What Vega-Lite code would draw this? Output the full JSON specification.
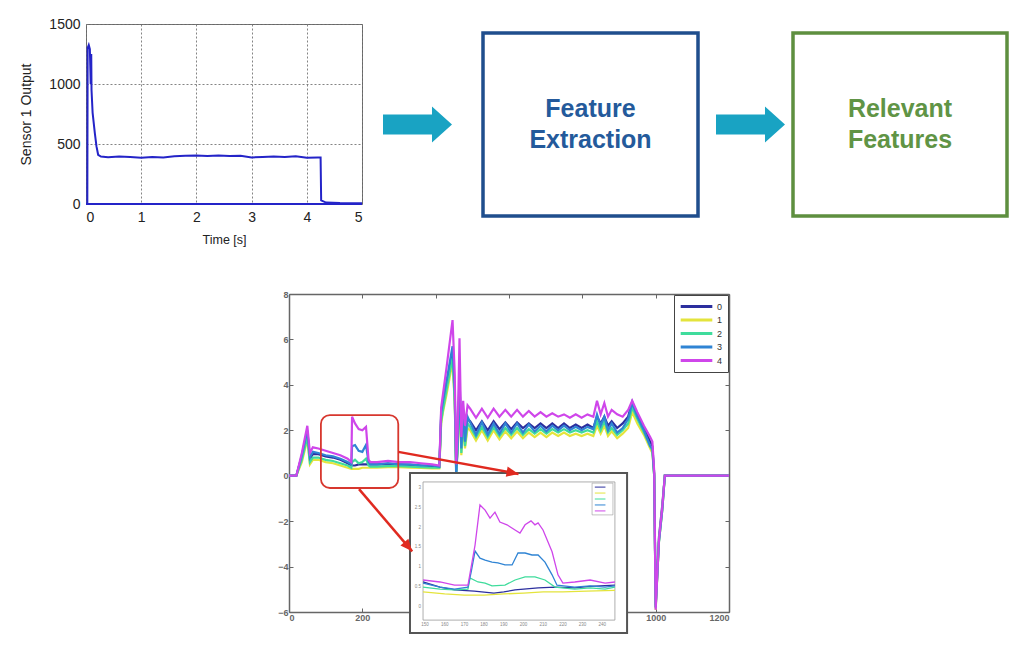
{
"$schema": "https://vega.github.io/schema/vega-lite/v6.json",
"background": "white",
"padding": {"left": 19, "top": 16, "right": 5, "bottom": 5},
"config": {"view": {"stroke": null}, "font": "Liberation Sans", "axis": {"labelFont": "Liberation Sans", "titleFont": "Liberation Sans"}},
"datasets": {
"sensor": [{"t":0,"v":0},{"t":0.024,"v":0},{"t":0.03,"v":1300},{"t":0.05,"v":1325},{"t":0.07,"v":1290},{"t":0.085,"v":1000},{"t":0.095,"v":1250},{"t":0.1,"v":950},{"t":0.12,"v":760},{"t":0.16,"v":590},{"t":0.19,"v":480},{"t":0.22,"v":410},{"t":0.27,"v":395},{"t":0.4,"v":390},{"t":0.6,"v":395},{"t":0.8,"v":392},{"t":1.0,"v":385},{"t":1.2,"v":392},{"t":1.4,"v":388},{"t":1.6,"v":398},{"t":1.8,"v":402},{"t":2.0,"v":405},{"t":2.2,"v":400},{"t":2.4,"v":405},{"t":2.6,"v":400},{"t":2.8,"v":402},{"t":3.0,"v":388},{"t":3.2,"v":392},{"t":3.4,"v":396},{"t":3.6,"v":392},{"t":3.8,"v":398},{"t":4.0,"v":385},{"t":4.2,"v":388},{"t":4.25,"v":388},{"t":4.26,"v":30},{"t":4.35,"v":12},{"t":4.6,"v":8},{"t":5.0,"v":6}],
"main": [
{"s":"0","x":0,"y":0},{"s":"0","x":20,"y":0},{"s":"0","x":35,"y":0.85},{"s":"0","x":50,"y":1.9},{"s":"0","x":57,"y":0.75},{"s":"0","x":65,"y":0.95},{"s":"0","x":80,"y":0.95},{"s":"0","x":100,"y":0.85},{"s":"0","x":120,"y":0.8},{"s":"0","x":140,"y":0.7},
{"s":"0","x":160,"y":0.55},{"s":"0","x":170,"y":0.45},{"s":"0","x":172,"y":0.45},{"s":"0","x":180,"y":0.45},{"s":"0","x":190,"y":0.5},{"s":"0","x":200,"y":0.5},{"s":"0","x":210,"y":0.5},{"s":"0","x":217,"y":0.5},{"s":"0","x":222,"y":0.5},{"s":"0","x":240,"y":0.5},
{"s":"0","x":270,"y":0.5},{"s":"0","x":300,"y":0.5},{"s":"0","x":330,"y":0.48},{"s":"0","x":360,"y":0.45},{"s":"0","x":390,"y":0.42},{"s":"0","x":410,"y":0.4},{"s":"0","x":415,"y":2.6},{"s":"0","x":420,"y":3.1},{"s":"0","x":430,"y":4.0},{"s":"0","x":446,"y":5.4},
{"s":"0","x":452,"y":3.5},{"s":"0","x":456,"y":0.2},{"s":"0","x":460,"y":1.4},{"s":"0","x":465,"y":4.2},{"s":"0","x":470,"y":1.3},{"s":"0","x":475,"y":2.6},{"s":"0","x":480,"y":1.6},{"s":"0","x":487,"y":2.5},{"s":"0","x":494,"y":2.4},{"s":"0","x":510,"y":2.0},
{"s":"0","x":526,"y":2.4},{"s":"0","x":542,"y":2.0},{"s":"0","x":558,"y":2.4},{"s":"0","x":574,"y":2.05},{"s":"0","x":590,"y":2.35},{"s":"0","x":606,"y":2.05},{"s":"0","x":622,"y":2.35},{"s":"0","x":638,"y":2.1},{"s":"0","x":654,"y":2.3},{"s":"0","x":670,"y":2.1},
{"s":"0","x":686,"y":2.3},{"s":"0","x":702,"y":2.1},{"s":"0","x":718,"y":2.3},{"s":"0","x":734,"y":2.1},{"s":"0","x":750,"y":2.3},{"s":"0","x":766,"y":2.1},{"s":"0","x":782,"y":2.25},{"s":"0","x":798,"y":2.1},{"s":"0","x":814,"y":2.25},{"s":"0","x":830,"y":2.1},
{"s":"0","x":840,"y":2.6},{"s":"0","x":850,"y":2.3},{"s":"0","x":860,"y":2.6},{"s":"0","x":870,"y":2.2},{"s":"0","x":880,"y":2.4},{"s":"0","x":895,"y":2.1},{"s":"0","x":910,"y":2.3},{"s":"0","x":925,"y":2.6},{"s":"0","x":936,"y":3.25},{"s":"0","x":950,"y":2.7},
{"s":"0","x":968,"y":2.1},{"s":"0","x":985,"y":1.5},{"s":"0","x":991,"y":1.3},{"s":"0","x":996,"y":0.1},{"s":"0","x":1000,"y":-5.7},{"s":"0","x":1009,"y":-2.7},{"s":"0","x":1018,"y":-1.3},{"s":"0","x":1025,"y":0},{"s":"0","x":1200,"y":0},
{"s":"1","x":0,"y":0},{"s":"1","x":20,"y":0},{"s":"1","x":35,"y":0.6},{"s":"1","x":50,"y":1.6},{"s":"1","x":57,"y":0.5},{"s":"1","x":65,"y":0.7},{"s":"1","x":80,"y":0.7},{"s":"1","x":100,"y":0.6},{"s":"1","x":120,"y":0.55},{"s":"1","x":140,"y":0.45},
{"s":"1","x":160,"y":0.35},{"s":"1","x":170,"y":0.3},{"s":"1","x":172,"y":0.3},{"s":"1","x":180,"y":0.3},{"s":"1","x":190,"y":0.3},{"s":"1","x":200,"y":0.35},{"s":"1","x":210,"y":0.35},{"s":"1","x":217,"y":0.35},{"s":"1","x":222,"y":0.35},{"s":"1","x":240,"y":0.35},
{"s":"1","x":270,"y":0.38},{"s":"1","x":300,"y":0.38},{"s":"1","x":330,"y":0.36},{"s":"1","x":360,"y":0.34},{"s":"1","x":390,"y":0.32},{"s":"1","x":410,"y":0.32},{"s":"1","x":415,"y":2.3},{"s":"1","x":420,"y":2.8},{"s":"1","x":430,"y":3.6},{"s":"1","x":446,"y":5.0},
{"s":"1","x":452,"y":3.2},{"s":"1","x":456,"y":0.2},{"s":"1","x":460,"y":1.1},{"s":"1","x":465,"y":3.8},{"s":"1","x":470,"y":0.9},{"s":"1","x":475,"y":2.2},{"s":"1","x":480,"y":1.2},{"s":"1","x":487,"y":2.1},{"s":"1","x":494,"y":2.0},{"s":"1","x":510,"y":1.55},
{"s":"1","x":526,"y":2.0},{"s":"1","x":542,"y":1.55},{"s":"1","x":558,"y":2.0},{"s":"1","x":574,"y":1.6},{"s":"1","x":590,"y":1.95},{"s":"1","x":606,"y":1.65},{"s":"1","x":622,"y":1.95},{"s":"1","x":638,"y":1.65},{"s":"1","x":654,"y":1.9},{"s":"1","x":670,"y":1.7},
{"s":"1","x":686,"y":1.9},{"s":"1","x":702,"y":1.7},{"s":"1","x":718,"y":1.9},{"s":"1","x":734,"y":1.75},{"s":"1","x":750,"y":1.9},{"s":"1","x":766,"y":1.75},{"s":"1","x":782,"y":1.85},{"s":"1","x":798,"y":1.75},{"s":"1","x":814,"y":1.85},{"s":"1","x":830,"y":1.75},
{"s":"1","x":840,"y":2.2},{"s":"1","x":850,"y":1.85},{"s":"1","x":860,"y":2.2},{"s":"1","x":870,"y":1.75},{"s":"1","x":880,"y":1.95},{"s":"1","x":895,"y":1.65},{"s":"1","x":910,"y":1.85},{"s":"1","x":925,"y":2.1},{"s":"1","x":936,"y":2.8},{"s":"1","x":950,"y":2.3},
{"s":"1","x":968,"y":1.8},{"s":"1","x":985,"y":1.2},{"s":"1","x":991,"y":1.0},{"s":"1","x":996,"y":0.0},{"s":"1","x":1000,"y":-5.9},{"s":"1","x":1009,"y":-2.9},{"s":"1","x":1018,"y":-1.5},{"s":"1","x":1025,"y":0},{"s":"1","x":1200,"y":0},
{"s":"2","x":0,"y":0},{"s":"2","x":20,"y":0},{"s":"2","x":35,"y":0.7},{"s":"2","x":50,"y":1.7},{"s":"2","x":57,"y":0.6},{"s":"2","x":65,"y":0.8},{"s":"2","x":80,"y":0.8},{"s":"2","x":100,"y":0.7},{"s":"2","x":120,"y":0.65},{"s":"2","x":140,"y":0.55},
{"s":"2","x":160,"y":0.45},{"s":"2","x":170,"y":0.35},{"s":"2","x":172,"y":0.6},{"s":"2","x":180,"y":0.7},{"s":"2","x":190,"y":0.55},{"s":"2","x":200,"y":0.6},{"s":"2","x":210,"y":0.75},{"s":"2","x":217,"y":0.45},{"s":"2","x":222,"y":0.4},{"s":"2","x":240,"y":0.4},
{"s":"2","x":270,"y":0.42},{"s":"2","x":300,"y":0.42},{"s":"2","x":330,"y":0.4},{"s":"2","x":360,"y":0.38},{"s":"2","x":390,"y":0.35},{"s":"2","x":410,"y":0.35},{"s":"2","x":415,"y":2.4},{"s":"2","x":420,"y":2.9},{"s":"2","x":430,"y":3.8},{"s":"2","x":446,"y":5.2},
{"s":"2","x":452,"y":3.3},{"s":"2","x":456,"y":0.1},{"s":"2","x":460,"y":1.2},{"s":"2","x":465,"y":4.0},{"s":"2","x":470,"y":1.0},{"s":"2","x":475,"y":2.4},{"s":"2","x":480,"y":1.3},{"s":"2","x":487,"y":2.3},{"s":"2","x":494,"y":2.15},{"s":"2","x":510,"y":1.7},
{"s":"2","x":526,"y":2.15},{"s":"2","x":542,"y":1.7},{"s":"2","x":558,"y":2.15},{"s":"2","x":574,"y":1.75},{"s":"2","x":590,"y":2.1},{"s":"2","x":606,"y":1.8},{"s":"2","x":622,"y":2.1},{"s":"2","x":638,"y":1.8},{"s":"2","x":654,"y":2.05},{"s":"2","x":670,"y":1.85},
{"s":"2","x":686,"y":2.05},{"s":"2","x":702,"y":1.85},{"s":"2","x":718,"y":2.05},{"s":"2","x":734,"y":1.9},{"s":"2","x":750,"y":2.05},{"s":"2","x":766,"y":1.9},{"s":"2","x":782,"y":2.0},{"s":"2","x":798,"y":1.9},{"s":"2","x":814,"y":2.0},{"s":"2","x":830,"y":1.9},
{"s":"2","x":840,"y":2.4},{"s":"2","x":850,"y":2.0},{"s":"2","x":860,"y":2.4},{"s":"2","x":870,"y":1.9},{"s":"2","x":880,"y":2.1},{"s":"2","x":895,"y":1.8},{"s":"2","x":910,"y":2.0},{"s":"2","x":925,"y":2.3},{"s":"2","x":936,"y":3.0},{"s":"2","x":950,"y":2.5},
{"s":"2","x":968,"y":1.9},{"s":"2","x":985,"y":1.3},{"s":"2","x":991,"y":1.1},{"s":"2","x":996,"y":0.0},{"s":"2","x":1000,"y":-5.8},{"s":"2","x":1009,"y":-2.9},{"s":"2","x":1018,"y":-1.5},{"s":"2","x":1025,"y":0},{"s":"2","x":1200,"y":0},
{"s":"3","x":0,"y":0},{"s":"3","x":20,"y":0},{"s":"3","x":35,"y":0.9},{"s":"3","x":50,"y":2.0},{"s":"3","x":57,"y":0.8},{"s":"3","x":65,"y":1.05},{"s":"3","x":80,"y":1.0},{"s":"3","x":100,"y":0.9},{"s":"3","x":120,"y":0.85},{"s":"3","x":140,"y":0.75},
{"s":"3","x":160,"y":0.6},{"s":"3","x":170,"y":0.5},{"s":"3","x":172,"y":1.3},{"s":"3","x":180,"y":1.35},{"s":"3","x":190,"y":1.1},{"s":"3","x":200,"y":1.05},{"s":"3","x":210,"y":1.35},{"s":"3","x":217,"y":0.6},{"s":"3","x":222,"y":0.5},{"s":"3","x":240,"y":0.5},
{"s":"3","x":270,"y":0.55},{"s":"3","x":300,"y":0.5},{"s":"3","x":330,"y":0.5},{"s":"3","x":360,"y":0.45},{"s":"3","x":390,"y":0.45},{"s":"3","x":410,"y":0.4},{"s":"3","x":415,"y":2.8},{"s":"3","x":420,"y":3.3},{"s":"3","x":430,"y":4.2},{"s":"3","x":446,"y":5.7},
{"s":"3","x":452,"y":3.8},{"s":"3","x":456,"y":-0.1},{"s":"3","x":460,"y":1.5},{"s":"3","x":465,"y":4.5},{"s":"3","x":470,"y":1.2},{"s":"3","x":475,"y":2.8},{"s":"3","x":480,"y":1.5},{"s":"3","x":487,"y":2.6},{"s":"3","x":494,"y":2.35},{"s":"3","x":510,"y":1.8},
{"s":"3","x":526,"y":2.35},{"s":"3","x":542,"y":1.8},{"s":"3","x":558,"y":2.3},{"s":"3","x":574,"y":1.85},{"s":"3","x":590,"y":2.3},{"s":"3","x":606,"y":1.9},{"s":"3","x":622,"y":2.3},{"s":"3","x":638,"y":1.9},{"s":"3","x":654,"y":2.25},{"s":"3","x":670,"y":1.95},
{"s":"3","x":686,"y":2.2},{"s":"3","x":702,"y":1.95},{"s":"3","x":718,"y":2.2},{"s":"3","x":734,"y":2.0},{"s":"3","x":750,"y":2.2},{"s":"3","x":766,"y":2.0},{"s":"3","x":782,"y":2.15},{"s":"3","x":798,"y":2.0},{"s":"3","x":814,"y":2.15},{"s":"3","x":830,"y":2.05},
{"s":"3","x":840,"y":2.7},{"s":"3","x":850,"y":2.2},{"s":"3","x":860,"y":2.6},{"s":"3","x":870,"y":2.0},{"s":"3","x":880,"y":2.3},{"s":"3","x":895,"y":1.9},{"s":"3","x":910,"y":2.1},{"s":"3","x":925,"y":2.5},{"s":"3","x":936,"y":3.2},{"s":"3","x":950,"y":2.6},
{"s":"3","x":968,"y":2.0},{"s":"3","x":985,"y":1.3},{"s":"3","x":991,"y":1.2},{"s":"3","x":996,"y":0.0},{"s":"3","x":1000,"y":-5.8},{"s":"3","x":1009,"y":-2.9},{"s":"3","x":1018,"y":-1.5},{"s":"3","x":1025,"y":0},{"s":"3","x":1200,"y":0},
{"s":"4","x":0,"y":0},{"s":"4","x":20,"y":0},{"s":"4","x":35,"y":1.0},{"s":"4","x":50,"y":2.2},{"s":"4","x":57,"y":1.0},{"s":"4","x":65,"y":1.25},{"s":"4","x":80,"y":1.2},{"s":"4","x":100,"y":1.1},{"s":"4","x":120,"y":1.0},{"s":"4","x":140,"y":0.9},
{"s":"4","x":160,"y":0.75},{"s":"4","x":170,"y":0.6},{"s":"4","x":172,"y":2.6},{"s":"4","x":180,"y":2.3},{"s":"4","x":190,"y":2.05},{"s":"4","x":200,"y":2.0},{"s":"4","x":210,"y":2.15},{"s":"4","x":217,"y":0.7},{"s":"4","x":222,"y":0.6},{"s":"4","x":240,"y":0.6},
{"s":"4","x":270,"y":0.65},{"s":"4","x":300,"y":0.6},{"s":"4","x":330,"y":0.6},{"s":"4","x":360,"y":0.55},{"s":"4","x":390,"y":0.5},{"s":"4","x":410,"y":0.45},{"s":"4","x":415,"y":3.0},{"s":"4","x":420,"y":3.6},{"s":"4","x":430,"y":4.8},{"s":"4","x":446,"y":6.85},
{"s":"4","x":452,"y":4.5},{"s":"4","x":456,"y":0.5},{"s":"4","x":460,"y":2.0},{"s":"4","x":465,"y":6.05},{"s":"4","x":470,"y":1.7},{"s":"4","x":475,"y":3.3},{"s":"4","x":480,"y":2.2},{"s":"4","x":487,"y":3.1},{"s":"4","x":494,"y":2.95},{"s":"4","x":510,"y":2.55},
{"s":"4","x":526,"y":2.95},{"s":"4","x":542,"y":2.55},{"s":"4","x":558,"y":2.95},{"s":"4","x":574,"y":2.6},{"s":"4","x":590,"y":2.9},{"s":"4","x":606,"y":2.6},{"s":"4","x":622,"y":2.9},{"s":"4","x":638,"y":2.6},{"s":"4","x":654,"y":2.85},{"s":"4","x":670,"y":2.6},
{"s":"4","x":686,"y":2.8},{"s":"4","x":702,"y":2.6},{"s":"4","x":718,"y":2.75},{"s":"4","x":734,"y":2.6},{"s":"4","x":750,"y":2.7},{"s":"4","x":766,"y":2.55},{"s":"4","x":782,"y":2.7},{"s":"4","x":798,"y":2.55},{"s":"4","x":814,"y":2.7},{"s":"4","x":830,"y":2.6},
{"s":"4","x":840,"y":3.3},{"s":"4","x":850,"y":2.7},{"s":"4","x":860,"y":3.2},{"s":"4","x":870,"y":2.6},{"s":"4","x":880,"y":2.9},{"s":"4","x":895,"y":2.7},{"s":"4","x":910,"y":2.6},{"s":"4","x":925,"y":2.9},{"s":"4","x":936,"y":3.3},{"s":"4","x":950,"y":2.8},
{"s":"4","x":968,"y":2.2},{"s":"4","x":985,"y":1.7},{"s":"4","x":991,"y":1.5},{"s":"4","x":996,"y":0.2},{"s":"4","x":1000,"y":-5.9},{"s":"4","x":1009,"y":-2.8},{"s":"4","x":1018,"y":-1.4},{"s":"4","x":1025,"y":0},{"s":"4","x":1200,"y":0}
],
"inset": [
{"s":"0","x":149,"y":0.63},{"s":"0","x":157.6,"y":0.5},{"s":"0","x":165,"y":0.43},{"s":"0","x":175,"y":0.4},{"s":"0","x":185,"y":0.35},{"s":"0","x":190,"y":0.38},{"s":"0","x":195.7,"y":0.43},{"s":"0","x":207.4,"y":0.48},{"s":"0","x":216,"y":0.5},{"s":"0","x":226,"y":0.48},{"s":"0","x":233.8,"y":0.52},{"s":"0","x":246.4,"y":0.55},
{"s":"1","x":149,"y":0.38},{"s":"1","x":160,"y":0.33},{"s":"1","x":170,"y":0.3},{"s":"1","x":180,"y":0.3},{"s":"1","x":190,"y":0.33},{"s":"1","x":200,"y":0.35},{"s":"1","x":210,"y":0.38},{"s":"1","x":220,"y":0.38},{"s":"1","x":232,"y":0.4},{"s":"1","x":246.4,"y":0.42},
{"s":"2","x":149,"y":0.5},{"s":"2","x":157.6,"y":0.45},{"s":"2","x":165,"y":0.43},{"s":"2","x":171.8,"y":0.45},{"s":"2","x":172.8,"y":0.73},{"s":"2","x":176.9,"y":0.63},{"s":"2","x":180.5,"y":0.6},{"s":"2","x":184,"y":0.53},{"s":"2","x":190.6,"y":0.55},{"s":"2","x":195.7,"y":0.68},{"s":"2","x":200.8,"y":0.76},{"s":"2","x":205.8,"y":0.76},{"s":"2","x":210.9,"y":0.68},{"s":"2","x":216,"y":0.5},{"s":"2","x":226,"y":0.45},{"s":"2","x":233.8,"y":0.48},{"s":"2","x":241.4,"y":0.45},{"s":"2","x":246.4,"y":0.5},
{"s":"3","x":149,"y":0.6},{"s":"3","x":157.6,"y":0.5},{"s":"3","x":165,"y":0.45},{"s":"3","x":171.8,"y":0.5},{"s":"3","x":173.5,"y":0.9},{"s":"3","x":175.4,"y":1.41},{"s":"3","x":177.9,"y":1.23},{"s":"3","x":180.5,"y":1.18},{"s":"3","x":184,"y":1.13},{"s":"3","x":187,"y":1.11},{"s":"3","x":190.6,"y":1.06},{"s":"3","x":194.2,"y":1.06},{"s":"3","x":197.2,"y":1.36},{"s":"3","x":200.8,"y":1.36},{"s":"3","x":204.3,"y":1.31},{"s":"3","x":207.4,"y":1.31},{"s":"3","x":210.9,"y":1.13},{"s":"3","x":214.5,"y":0.81},{"s":"3","x":217,"y":0.55},{"s":"3","x":226,"y":0.5},{"s":"3","x":233.8,"y":0.53},{"s":"3","x":241.4,"y":0.5},{"s":"3","x":246.4,"y":0.53},
{"s":"4","x":149,"y":0.68},{"s":"4","x":157.6,"y":0.63},{"s":"4","x":165,"y":0.55},{"s":"4","x":171.8,"y":0.55},{"s":"4","x":175.4,"y":1.56},{"s":"4","x":177.9,"y":2.57},{"s":"4","x":180.5,"y":2.44},{"s":"4","x":183,"y":2.24},{"s":"4","x":185.5,"y":2.39},{"s":"4","x":188,"y":2.14},{"s":"4","x":191.6,"y":2.07},{"s":"4","x":195.7,"y":1.94},{"s":"4","x":198.2,"y":1.86},{"s":"4","x":200.8,"y":2.07},{"s":"4","x":203.8,"y":2.17},{"s":"4","x":205.8,"y":2.07},{"s":"4","x":207.4,"y":2.12},{"s":"4","x":209.9,"y":1.94},{"s":"4","x":214.5,"y":1.39},{"s":"4","x":217.5,"y":0.81},{"s":"4","x":220,"y":0.6},{"s":"4","x":226,"y":0.63},{"s":"4","x":233.8,"y":0.68},{"s":"4","x":241.4,"y":0.6},{"s":"4","x":246.4,"y":0.63}
],
"arrows": [{"id":"a","x1":298,"y1":1.05,"x2":626,"y2":0.08},{"id":"b","x1":191,"y1":-0.59,"x2":336,"y2":-3.33}]
},
"bounds": "flush",
"spacing": 270,
"resolve": {"scale": {"color": "independent"}, "legend": {"color": "independent"}},
"vconcat": [
{"bounds": "flush", "spacing": 0, "hconcat": [
  {"width": 276, "height": 180, "view": {"stroke": "#666", "strokeWidth": 1},
   "layer": [
    {"data": {"name": "sensor"}, "mark": {"type": "line", "color": "#2424c8", "strokeWidth": 2},
     "encoding": {
      "x": {"field": "t", "type": "quantitative", "scale": {"domain": [0, 5], "nice": false, "zero": false},
            "axis": {"values": [0,1,2,3,4,5], "format": "d", "title": "Time [s]", "grid": true, "gridDash": [2,2], "gridColor": "#777", "gridOpacity": 0.9, "domain": false, "ticks": false, "labelPadding": 6, "labelFontSize": 14, "labelColor": "#222", "titleFontSize": 12.5, "titleFontWeight": "normal", "titleColor": "#222", "titlePadding": 9}},
      "y": {"field": "v", "type": "quantitative", "scale": {"domain": [0, 1500], "nice": false},
            "axis": {"values": [0,500,1000,1500], "format": "d", "title": "Sensor 1 Output", "grid": true, "gridDash": [2,2], "gridColor": "#777", "gridOpacity": 0.9, "domain": false, "ticks": false, "labelPadding": 6, "labelFontSize": 14, "labelColor": "#222", "titleFontSize": 14, "titleFontWeight": "normal", "titleColor": "#222", "titlePadding": 15}}}},
    {"data": {"values": [{}]}, "mark": {"type": "rule", "color": "#2424c8", "strokeWidth": 2}, "encoding": {"y": {"datum": 0, "type": "quantitative"}}}
   ]},
  {"bounds": "flush", "spacing": 0, "vconcat": [
    {"width": 1, "height": 9, "data": {"values": [{}]}, "mark": {"type": "point", "opacity": 0}, "encoding": {}},
    {"bounds": "flush", "spacing": 0, "hconcat": [
      {"width": 111, "height": 183, "data": {"values": [{}]}, "mark": {"type": "point", "shape": "M -1 -0.29 L 0.42 -0.29 L 0.42 -0.52 L 1 0 L 0.42 0.52 L 0.42 0.29 L -1 0.29 Z", "size": 4761, "filled": true, "color": "#19a3c3", "opacity": 1, "strokeWidth": 0}, "encoding": {}},
      {"width": 10, "height": 183, "data": {"values": [{}]}, "mark": {"type": "point", "opacity": 0}, "encoding": {}},
      {"width": 215, "height": 183, "view": {"stroke": "#1f4e8d", "strokeWidth": 3.5}, "data": {"values": [{"label": ["Feature", "Extraction"]}]},
       "mark": {"type": "text", "fontSize": 25, "fontWeight": "bold", "color": "#245a9b", "lineHeight": 31, "font": "Liberation Sans", "baseline": "middle", "dy": -15.5},
       "encoding": {"text": {"field": "label"}}},
      {"width": 10, "height": 183, "data": {"values": [{}]}, "mark": {"type": "point", "opacity": 0}, "encoding": {}},
      {"width": 85, "height": 183, "data": {"values": [{}]}, "mark": {"type": "point", "shape": "M -1 -0.29 L 0.42 -0.29 L 0.42 -0.52 L 1 0 L 0.42 0.52 L 0.42 0.29 L -1 0.29 Z", "size": 4761, "filled": true, "color": "#19a3c3", "opacity": 1, "strokeWidth": 0}, "encoding": {}},
      {"width": 214, "height": 183, "view": {"stroke": "#5e8f3f", "strokeWidth": 3.5}, "data": {"values": [{"label": ["Relevant", "Features"]}]},
       "mark": {"type": "text", "fontSize": 25, "fontWeight": "bold", "color": "#609445", "lineHeight": 31, "font": "Liberation Sans", "baseline": "middle", "dy": -15.5},
       "encoding": {"text": {"field": "label"}}}
    ]}
  ]}
]},
{"bounds": "flush", "spacing": 0,
 "resolve": {"scale": {"color": "independent"}, "legend": {"color": "independent"}},
 "hconcat": [
  {"width": 203, "height": 318, "data": {"values": [{}]}, "mark": {"type": "point", "opacity": 0}, "encoding": {}},
  {"width": 440, "height": 318,
   "resolve": {"scale": {"x": "independent", "y": "independent"}},
   "layer": [
    {"data": {"name": "main"}, "mark": {"type": "line", "strokeWidth": 2.2},
     "encoding": {
      "x": {"field": "x", "type": "quantitative", "scale": {"domain": [0, 1200], "nice": false, "zero": false},
            "axis": {"orient": "bottom", "values": [0,200,400,600,800,1000,1200], "format": "d", "title": null, "grid": false, "domainColor": "#666", "domainWidth": 1.5, "tickColor": "#666", "tickSize": -4, "labelPadding": 5, "labelFontSize": 9, "labelFontWeight": "bold", "labelColor": "#666"}},
      "y": {"field": "y", "type": "quantitative", "scale": {"domain": [-6, 8], "nice": false, "zero": false},
            "axis": {"orient": "left", "values": [-6,-4,-2,0,2,4,6,8], "format": "d", "title": null, "grid": false, "domainColor": "#666", "domainWidth": 1.5, "tickColor": "#666", "tickSize": -4, "labelPadding": 5, "labelFontSize": 9, "labelFontWeight": "bold", "labelColor": "#666"}},
      "color": {"field": "s", "type": "nominal", "scale": {"domain": ["0","1","2","3","4"], "range": ["#2c2f9e","#e4e43c","#3fdc9c","#2f84d4","#cf46ea"]},
                "legend": {"orient": "top-right", "offset": 1, "title": null, "symbolType": "stroke", "symbolSize": 1000, "symbolStrokeWidth": 3, "clipHeight": 13, "rowPadding": 0.5, "labelFontSize": 9, "labelColor": "#333", "strokeColor": "#444", "fillColor": "white", "padding": 5, "labelOffset": 3}}}},
    {"data": {"values": [{}]}, "mark": {"type": "point", "opacity": 0},
     "encoding": {
      "x": {"datum": 0, "type": "quantitative", "scale": {"domain": [0, 1200], "nice": false, "zero": false},
            "axis": {"orient": "top", "values": [0,200,400,600,800,1000,1200], "labels": false, "title": null, "grid": false, "domainColor": "#666", "domainWidth": 1.5, "tickColor": "#666", "tickSize": -4}},
      "y": {"datum": 0, "type": "quantitative", "scale": {"domain": [-6, 8], "nice": false, "zero": false},
            "axis": {"orient": "right", "values": [-6,-4,-2,0,2,4,6,8], "labels": false, "title": null, "grid": false, "domainColor": "#666", "domainWidth": 1.5, "tickColor": "#666", "tickSize": -4}}}},
    {"data": {"values": [{"x1": 330, "x2": 922, "y1": 0.12, "y2": -6.92}]}, "mark": {"type": "rect", "fill": "white", "stroke": "#555", "strokeWidth": 2},
     "encoding": {"x": {"field": "x1", "type": "quantitative", "scale": {"domain": [0, 1200], "nice": false, "zero": false}, "axis": null}, "x2": {"field": "x2"},
                  "y": {"field": "y1", "type": "quantitative", "scale": {"domain": [-6, 8], "nice": false, "zero": false}, "axis": null}, "y2": {"field": "y2"}}},
    {"data": {"values": [{"x1": 149, "x2": 246.4, "y1": 3.15, "y2": -0.33}]}, "mark": {"type": "rect", "fill": "white", "fillOpacity": 0, "stroke": "#999", "strokeWidth": 0.8},
     "encoding": {"x": {"field": "x1", "type": "quantitative", "scale": {"domain": [80.96, 304.31], "nice": false, "zero": false}, "axis": null}, "x2": {"field": "x2"},
                  "y": {"field": "y1", "type": "quantitative", "scale": {"domain": [-0.126, 7.884], "nice": false, "zero": false}, "axis": null}, "y2": {"field": "y2"}}},
    {"data": {"name": "inset"}, "mark": {"type": "line", "strokeWidth": 1.3},
     "encoding": {"x": {"field": "x", "type": "quantitative", "scale": {"domain": [80.96, 304.31], "nice": false, "zero": false}, "axis": null},
                  "y": {"field": "y", "type": "quantitative", "scale": {"domain": [-0.126, 7.884], "nice": false, "zero": false}, "axis": null},
                  "color": {"field": "s", "type": "nominal"}}},
    {"data": {"values": [{"x1": 234.8, "x2": 245.4, "y1": 3.12, "y2": 2.32}]}, "mark": {"type": "rect", "fill": "white", "stroke": "#999", "strokeWidth": 0.6},
     "encoding": {"x": {"field": "x1", "type": "quantitative", "scale": {"domain": [80.96, 304.31], "nice": false, "zero": false}, "axis": null}, "x2": {"field": "x2"},
                  "y": {"field": "y1", "type": "quantitative", "scale": {"domain": [-0.126, 7.884], "nice": false, "zero": false}, "axis": null}, "y2": {"field": "y2"}}},
    {"data": {"values": [{"s":"0","y":3.02},{"s":"1","y":2.87},{"s":"2","y":2.72},{"s":"3","y":2.57},{"s":"4","y":2.42}]}, "mark": {"type": "rule", "strokeWidth": 1},
     "encoding": {"x": {"datum": 236.2, "type": "quantitative", "scale": {"domain": [80.96, 304.31], "nice": false, "zero": false}, "axis": null}, "x2": {"datum": 241.6},
                  "y": {"field": "y", "type": "quantitative", "scale": {"domain": [-0.126, 7.884], "nice": false, "zero": false}, "axis": null},
                  "color": {"field": "s", "type": "nominal"}}},
    {"data": {"values": [{"v":150},{"v":160},{"v":170},{"v":180},{"v":190},{"v":200},{"v":210},{"v":220},{"v":230},{"v":240}]}, "mark": {"type": "text", "fontSize": 4.5, "color": "#888", "baseline": "top", "dy": 2},
     "encoding": {"x": {"field": "v", "type": "quantitative", "scale": {"domain": [80.96, 304.31], "nice": false, "zero": false}, "axis": null},
                  "y": {"datum": -0.33, "type": "quantitative", "scale": {"domain": [-0.126, 7.884], "nice": false, "zero": false}, "axis": null},
                  "text": {"field": "v", "type": "quantitative"}}},
    {"data": {"values": [{"v":0},{"v":0.5},{"v":1},{"v":1.5},{"v":2},{"v":2.5},{"v":3}]}, "mark": {"type": "text", "fontSize": 4.5, "color": "#888", "align": "right", "dx": -2},
     "encoding": {"x": {"datum": 149, "type": "quantitative", "scale": {"domain": [80.96, 304.31], "nice": false, "zero": false}, "axis": null},
                  "y": {"field": "v", "type": "quantitative", "scale": {"domain": [-0.126, 7.884], "nice": false, "zero": false}, "axis": null},
                  "text": {"field": "v", "type": "quantitative"}}},
    {"data": {"values": [{"x1": 87, "x2": 298, "y1": 2.67, "y2": -0.54}]}, "mark": {"type": "rect", "fill": "white", "fillOpacity": 0, "stroke": "#d7372e", "strokeWidth": 1.8, "cornerRadius": 9},
     "encoding": {"x": {"field": "x1", "type": "quantitative", "scale": {"domain": [0, 1200], "nice": false, "zero": false}, "axis": null}, "x2": {"field": "x2"},
                  "y": {"field": "y1", "type": "quantitative", "scale": {"domain": [-6, 8], "nice": false, "zero": false}, "axis": null}, "y2": {"field": "y2"}}},
    {"data": {"name": "arrows"}, "mark": {"type": "rule", "color": "#e02a20", "strokeWidth": 2.5},
     "encoding": {"x": {"field": "x1", "type": "quantitative", "scale": {"domain": [0, 1200], "nice": false, "zero": false}, "axis": null}, "x2": {"field": "x2"},
                  "y": {"field": "y1", "type": "quantitative", "scale": {"domain": [-6, 8], "nice": false, "zero": false}, "axis": null}, "y2": {"field": "y2"}}},
    {"data": {"name": "arrows"}, "transform": [{"filter": "datum.id == 'a'"}], "mark": {"type": "point", "shape": "M 0 0 L -3 -1.3 L -3 1.3 Z", "size": 64, "filled": true, "color": "#e02a20", "opacity": 1, "angle": 10.4},
     "encoding": {"x": {"field": "x2", "type": "quantitative", "scale": {"domain": [0, 1200], "nice": false, "zero": false}, "axis": null},
                  "y": {"field": "y2", "type": "quantitative", "scale": {"domain": [-6, 8], "nice": false, "zero": false}, "axis": null}}},
    {"data": {"name": "arrows"}, "transform": [{"filter": "datum.id == 'b'"}], "mark": {"type": "point", "shape": "M 0 0 L -3 -1.3 L -3 1.3 Z", "size": 64, "filled": true, "color": "#e02a20", "opacity": 1, "angle": 49.5},
     "encoding": {"x": {"field": "x2", "type": "quantitative", "scale": {"domain": [0, 1200], "nice": false, "zero": false}, "axis": null},
                  "y": {"field": "y2", "type": "quantitative", "scale": {"domain": [-6, 8], "nice": false, "zero": false}, "axis": null}}}
   ]}
]}
]
}
